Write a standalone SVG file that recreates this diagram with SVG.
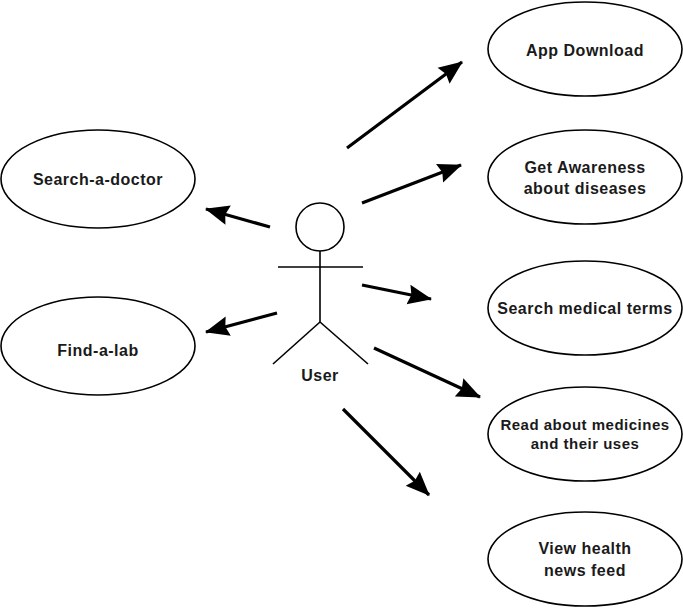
<svg xmlns="http://www.w3.org/2000/svg" width="683" height="610" viewBox="0 0 683 610">
<style>
.uc{fill:#fff;stroke:#000;stroke-width:1.6}
.t{font-family:"Liberation Sans",Arial,sans-serif;font-weight:bold;font-size:16px;letter-spacing:0.5px;fill:#1a1a1a;text-anchor:middle}
.c{stroke:#000;stroke-width:3.2;fill:none;marker-end:url(#ah)}
.a{stroke:#000;stroke-width:1.6;fill:none}
</style>
<defs>
<marker id="ah" markerUnits="userSpaceOnUse" markerWidth="24" markerHeight="22" viewBox="0 0 24 22" refX="23" refY="11" orient="auto">
<path d="M0,1 L24,11 L0,21 L3,11 z" fill="#000"/>
</marker>
</defs>
<rect width="683" height="610" fill="#fff"/>
<g id="actor-user">
<circle class="a" cx="320" cy="227" r="24"/>
<line class="a" x1="320" y1="251" x2="320" y2="322"/>
<line class="a" x1="278" y1="267" x2="363" y2="267"/>
<line class="a" x1="320" y1="322" x2="273" y2="364"/>
<line class="a" x1="320" y1="322" x2="368" y2="364"/>
<text class="t" x="320" y="381">User</text>
</g>
<g id="uc-search-doctor">
<ellipse class="uc" cx="98" cy="179" rx="97" ry="49"/>
<text class="t" x="98" y="185">Search-a-doctor</text>
</g>
<g id="uc-find-lab">
<ellipse class="uc" cx="98" cy="346" rx="97" ry="49"/>
<text class="t" x="98" y="356">Find-a-lab</text>
</g>
<g id="uc-app-download">
<ellipse class="uc" cx="585" cy="49" rx="97" ry="47"/>
<text class="t" x="585" y="56">App Download</text>
</g>
<g id="uc-awareness">
<ellipse class="uc" cx="585" cy="177" rx="97" ry="47"/>
<text class="t" x="585" y="173">Get Awareness</text>
<text class="t" x="585" y="194">about diseases</text>
</g>
<g id="uc-medical-terms">
<ellipse class="uc" cx="585" cy="308" rx="97" ry="47"/>
<text class="t" x="585" y="314">Search medical terms</text>
</g>
<g id="uc-medicines">
<ellipse class="uc" cx="585" cy="434" rx="97" ry="47"/>
<text class="t" x="585" y="430" style="font-size:15px">Read about medicines</text>
<text class="t" x="585" y="449" style="font-size:15px">and their uses</text>
</g>
<g id="uc-news">
<ellipse class="uc" cx="585" cy="559" rx="97" ry="47"/>
<text class="t" x="585" y="554">View health</text>
<text class="t" x="585" y="576">news feed</text>
</g>
<g id="connectors">
<line class="c" x1="347" y1="148" x2="462" y2="62"/>
<line class="c" x1="362" y1="203" x2="461" y2="165"/>
<line class="c" x1="270" y1="227" x2="206" y2="209"/>
<line class="c" x1="277" y1="313" x2="206" y2="332"/>
<line class="c" x1="362" y1="285" x2="431" y2="299"/>
<line class="c" x1="374" y1="348" x2="480" y2="397"/>
<line class="c" x1="343" y1="409" x2="429" y2="495"/>
</g>
</svg>
